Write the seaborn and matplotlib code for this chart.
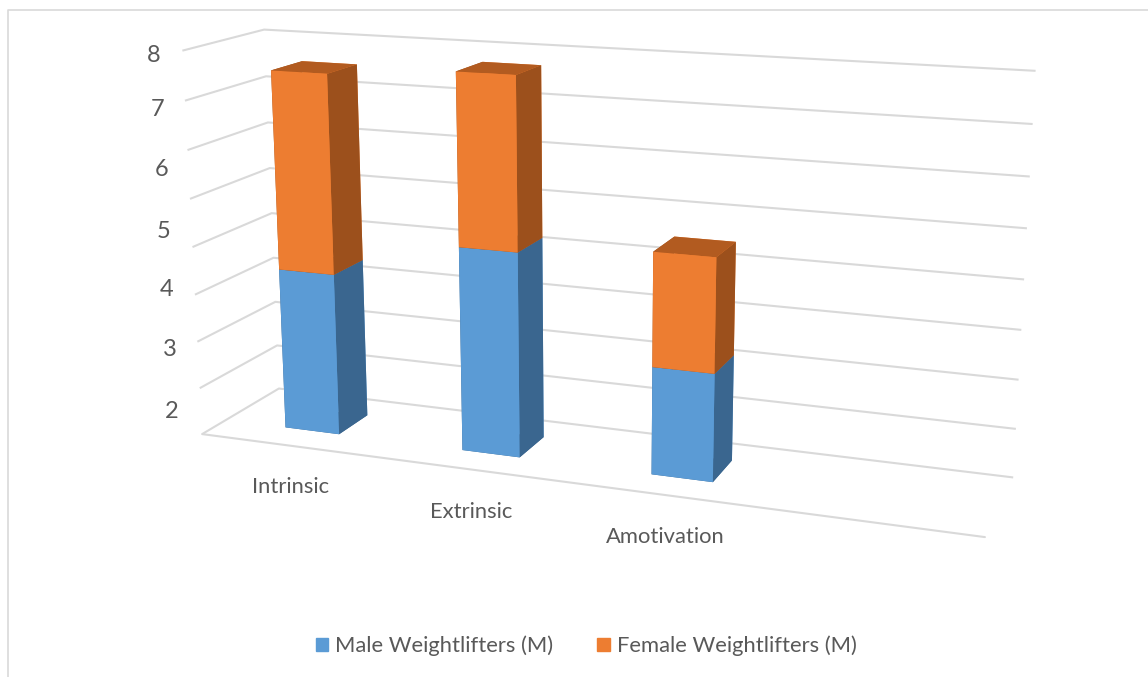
import seaborn as sns, matplotlib
matplotlib.use("Agg")
import matplotlib.pyplot as plt
from matplotlib.patches import Patch
from matplotlib.lines import Line2D

categories = ["Intrinsic", "Extrinsic", "Amotivation"]
male = [3.42, 4.24, 2.2]
female = [4.12, 3.5, 2.3]
series_names = ["Male Weightlifters (M)", "Female Weightlifters (M)"]
value_labels = ["8", "7", "6", "5", "4", "3", "2"]

sns.set_style("white")
plt.rcParams['font.family'] = ['Lato', 'DejaVu Sans']
W, H = 1148, 677
fig = plt.figure(figsize=(W/100, H/100), dpi=100)

S, tx, ty = 907, 583, 275
ax = fig.add_axes([(tx-S/2)/W,(H-ty-S/2)/H,S/W,S/H],projection='3d')
ax.view_init(elev=14.413,azim=-69.75); ax.set_proj_type('persp',focal_length=.409); ax.set_box_aspect((1,.201,.494))
ax.set_xlim(0,4,view_margin=0); ax.set_ylim(0,1,view_margin=0); ax.set_zlim(0,8,view_margin=0)
ax.computed_zorder=False
ax.patch.set_alpha(0)
for axis in (ax.xaxis,ax.yaxis,ax.zaxis):
    axis.set_pane_color((1,1,1,0)); axis.pane.set_edgecolor((1,1,1,0))
    axis._axinfo['grid'].update(color='#d9d9d9',linewidth=1.5)
    axis._axinfo['tick'].update(inward_factor=0,outward_factor=0)
ax.set_xticks([]); ax.set_yticks([]); ax.set_zticks(range(0,9)); ax.set_zticklabels([])
ax.yaxis.line.set_color((1,1,1,0)); ax.zaxis.line.set_color((1,1,1,0))
ax.xaxis.line.set_color('#d9d9d9'); ax.xaxis.line.set_linewidth(1.5)
def faces(front,side,top): return [top,top,front,front,side,side]
for i in range(3):
    x=i+0.35
    ax.bar3d(x,.3,0,.31,.4,male[i],color=faces('#5B9BD5','#3A668F','#3A668F'),shade=False,zorder=3+i*2,linewidth=0)
    ax.bar3d(x,.3,male[i],.31,.4,female[i],color=faces('#ED7D31','#9C501C','#B25B20'),shade=False,zorder=4+i*2,linewidth=0)
TC='#595959'
for t,(x,y) in zip(value_labels,[(154,55),(158,109),(162,170),(164,231),(167,290),(170,350),(172,411)]):
    fig.text(x/W,1-y/H,t,ha='center',va='center',fontsize=17,color=TC)
for t,(x,y) in zip(categories,[(291,487),(471,512),(665,537)]):
    fig.text(x/W,1-y/H,t,ha='center',va='center',fontsize=15.8,color=TC)
fig.legend(handles=[Patch(color='#5B9BD5',label=series_names[0]),Patch(color='#ED7D31',label=series_names[1])],
  loc='center',bbox_to_anchor=(586/W,1-646/H),ncol=2,frameon=False,fontsize=15.85,labelcolor=TC,handlelength=.58,handleheight=.58,handletextpad=.3,columnspacing=2.0)
fig.add_artist(Line2D([8/W,8/W,1],[0,1-10/H,1-10/H],color='#d9d9d9',lw=1.2))
fig.savefig('out.png',dpi=100)
